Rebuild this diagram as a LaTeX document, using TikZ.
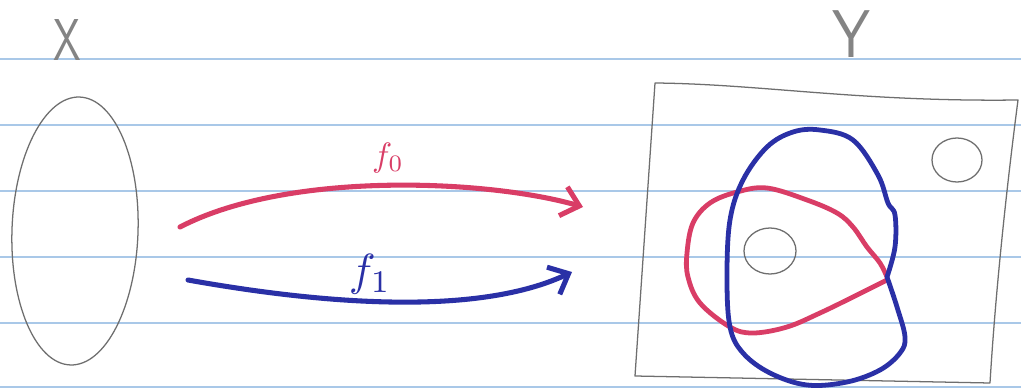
\documentclass[tikz,border=0pt]{standalone}
\usepackage{xcolor}
\usepackage{amsmath}
\usepackage{tikz}
\usetikzlibrary{arrows.meta,shapes.geometric}
\definecolor{kalemGri}{HTML}{6E6E6E}
\definecolor{kirmizi}{HTML}{D93D66}
\definecolor{lacivert}{HTML}{2A30A6}
\definecolor{cizgiMavi}{HTML}{A9C8E8}

\begin{document}
\begin{tikzpicture}[x=0.025cm, y=-0.025cm, line cap=round, line join=round,
  etiket/.style={text=kalemGri!85, inner sep=0pt, font=\sffamily\fontsize{#1}{#1}\selectfont},
  kume/.style={draw=kalemGri, line width=0.9pt, ellipse, inner sep=0pt},
  kalem/.style={line width=3.6pt, -{Straight Barb[length=0.42cm, width=0.75cm, line width=3.6pt]}}]
\useasboundingbox (0,0) rectangle (1021,388);
\fill[white] (0,0) rectangle (1021,388);
% defter cizgileri
\foreach \y in {59,125,191,257,323,387}
  \draw[cizgiMavi, line width=1.2pt] (0,\y)--(1021,\y);
\node[etiket=42, xscale=0.75] (xlbl) at (67,40) {X};
\node[etiket=48, xscale=0.9] (ylbl) at (851,34) {Y};
\node[kume, minimum width=3.15cm, minimum height=6.7cm, rotate=-2] (xset) at (75,231) {};
% Y kumesi
\draw[kalemGri, line width=0.9pt] (655,83) .. controls (760,84) and (860,102) .. (1018,100)
  .. controls (1005,200) and (995,300) .. (990,383) -- (635,376) -- cycle;
\node[kume, minimum width=1.25cm, minimum height=1.1cm] (nokta1) at (957,160) {};
\node[kume, minimum width=1.3cm, minimum height=1.15cm] (nokta2) at (770,251) {};
\draw[kirmizi, line width=3.4pt] plot[smooth, tension=0.6] coordinates {(887,277) (880,263) (867,247)
  (853,227) (837,213) (807,200) (767,188) (737,192) (710,203) (693,223) (687,253) (688,277)
  (700,303) (730,327) (753,333) (787,327) (820,313) (853,297) (887,280)};
\draw[lacivert, line width=3.4pt] plot[smooth, tension=0.6] coordinates {(887,277) (897,307) (905,337)
  (900,353) (880,370) (847,382) (807,385) (770,373) (743,353) (730,327) (727,277) (730,220)
  (743,180) (767,147) (793,132) (820,130) (853,140) (878,175) (888,203) (895,215) (895,247) (887,277)};
% f0 ve f1
\coordinate (f0bas) at (180,227);
\coordinate (f0son) at (583,207);
\coordinate (f1bas) at (188,280);
\coordinate (f1son) at (572,272);
\draw[kalem, kirmizi] (f0bas) .. controls (290,170) and (490,180) .. (f0son);
\draw[kalem, lacivert] (f1bas) .. controls (300,300) and (470,320) .. (f1son);
\node[kirmizi, scale=2.4] (f0lbl) at (388,158) {$f_0$};
\node[lacivert, scale=3.2] (f1lbl) at (370,274) {$f_1$};
\end{tikzpicture}
\end{document}
